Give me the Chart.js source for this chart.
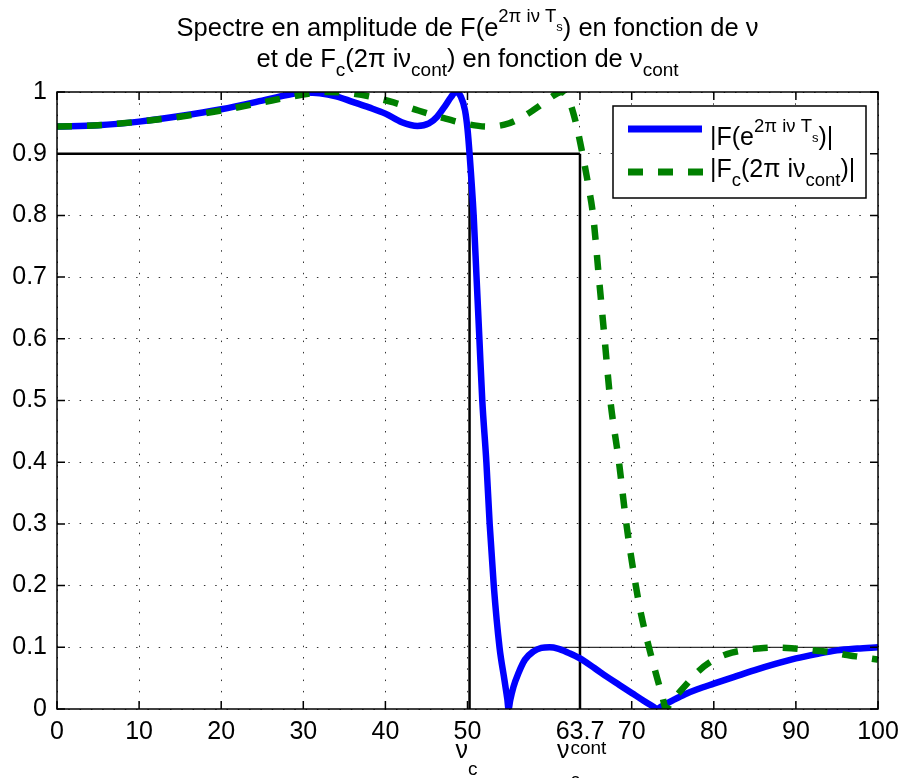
<!DOCTYPE html>
<html>
<head>
<meta charset="utf-8">
<script src="https://cdn.jsdelivr.net/npm/chart.js@4.4.1/dist/chart.umd.min.js"></script>
<style>
  html, body { margin: 0; padding: 0; background: #fff; }
  #wrap { width: 899px; height: 778px; }
</style>
</head>
<body>
<div id="wrap"><canvas id="c" width="899" height="778"></canvas></div>
<script>
// ---------- data ----------
const xTickValues = [0, 10, 20, 30, 40, 50, 63.7, 70, 80, 90, 100];
const xTickLabels = ['0', '10', '20', '30', '40', '50', '63.7', '70', '80', '90', '100'];
const yTickValues = [0, 0.1, 0.2, 0.3, 0.4, 0.5, 0.6, 0.7, 0.8, 0.9, 1];
const yTickLabels = ['0', '0.1', '0.2', '0.3', '0.4', '0.5', '0.6', '0.7', '0.8', '0.9', '1'];

// |F(e^{2pi i nu Ts})| (digital, blue solid)
const digitalNu = [0, 5, 10, 15, 20, 25, 28, 30, 32, 34, 36, 38, 40, 42, 43.9, 45.3, 46.3, 47.3, 48.0, 48.6, 49.2, 49.7, 50.0,
  50.25, 50.75, 51.1, 51.45, 51.8, 52.3, 52.7, 53.2, 53.9, 54.5, 54.85, 55.0, 55.2, 55.6, 56.2, 57.0, 58.0, 59.0, 60.0, 61.0,
  62.3, 63.7, 65.5, 67.0, 68.5, 70.0, 71.5, 72.6, 73.1, 73.6, 75.0, 76.5, 78.0, 80.0, 82.5, 85.0, 87.5, 90.0, 92.5, 95.0, 97.5, 100];
const digitalAmp = [0.944, 0.946, 0.952, 0.961, 0.972, 0.986, 0.995, 0.999, 0.998, 0.993, 0.984, 0.975, 0.965, 0.951, 0.945, 0.949, 0.960, 0.978, 0.992, 1.0, 0.992, 0.970, 0.94,
  0.90, 0.80, 0.70, 0.60, 0.50, 0.40, 0.30, 0.20, 0.10, 0.047, 0.016, 0.0, 0.014, 0.036, 0.058, 0.080, 0.093, 0.099, 0.100, 0.098,
  0.091, 0.082, 0.066, 0.052, 0.039, 0.026, 0.013, 0.004, 0.0, 0.004, 0.014, 0.024, 0.032, 0.041, 0.052, 0.063, 0.073, 0.082, 0.089, 0.095, 0.098, 0.100];

// |Fc(2pi i nu_cont)| (continuous, green dashed)
const contNu = [0, 5, 10, 15, 20, 25, 28, 31, 33, 35, 38, 41, 44, 47, 50, 52.4, 54.5, 56.5, 58.5, 60.0, 61.5, 62.4, 63.2, 64.0,
  64.7, 65.3, 66.0, 66.7, 67.4, 68.45, 69.35, 70.5, 71.2, 72.1, 73.1, 73.7, 74.2, 74.7, 75.9, 77.0, 78.1, 79.8, 81.6, 83.5,
  85.3, 87.0, 88.9, 90.7, 92.6, 94.3, 96.0, 98.0, 100];
const contAmp = [0.944, 0.946, 0.952, 0.960, 0.970, 0.983, 0.991, 0.998, 1.0, 0.999, 0.993, 0.983, 0.970, 0.958, 0.948, 0.944, 0.947, 0.958, 0.975, 0.990, 1.0, 0.985, 0.950, 0.90,
  0.85, 0.80, 0.70, 0.60, 0.50, 0.40, 0.30, 0.20, 0.15, 0.10, 0.05, 0.022, 0.0, 0.01, 0.0285, 0.045, 0.061, 0.078, 0.089, 0.095,
  0.098, 0.0995, 0.099, 0.097, 0.0945, 0.092, 0.088, 0.084, 0.080];

// reference lines
const nuC = 50.25, nuCcont = 63.7;
const level09X = [0, 63.7], level09Y = [0.9, 0.9];
const nuCLineX = [nuC, nuC], nuCLineY = [0, 0.9];
const nuContLineX = [nuCcont, nuCcont], nuContLineY = [0, 0.9];
const level01X = [56, 100], level01Y = [0.1, 0.1];

// texts (segments: [text, size, baseline shift])
const titleLine1 = [['Spectre en amplitude de F(e', 25.5, 0], ['2\u03C0 i\u03BD T', 18.5, -14], ['s', 13, -5], [') en fonction de \u03BD', 25.5, 0]];
const titleLine2 = [['et de F', 25.5, 0], ['c', 19, 9], ['(2\u03C0 i\u03BD', 25.5, 0], ['cont', 19, 9], [') en fonction de \u03BD', 25.5, 0], ['cont', 19, 9]];
const legend1 = [['|F(e', 25, 0], ['2\u03C0 i\u03BD T', 18.5, -13], ['s', 13, -3], [')|', 25, 0]];
const legend2 = [['|F', 25, 0], ['c', 18.5, 9], ['(2\u03C0 i\u03BD', 25, 0], ['cont', 18.5, 9], [')|', 25, 0]];
const nuCLabel = [['\u03BD', 25, 0], ['c', 19, 17]];
const nuContLabelMain = [['\u03BD', 25, 0]];

// ---------- rendering ----------
const FONT = '"Liberation Sans", Arial, Helvetica, sans-serif';
const pts = (xs, ys) => xs.map((x, i) => ({ x: x, y: ys[i] }));

function richWidth(ctx, parts) {
  let w = 0;
  for (const p of parts) { ctx.font = p[1] + 'px ' + FONT; w += ctx.measureText(p[0]).width; }
  return w;
}
function drawRich(ctx, parts, x, y, align) {
  const w = richWidth(ctx, parts);
  let cx = align === 'center' ? x - w / 2 : x;
  ctx.textAlign = 'left';
  ctx.textBaseline = 'alphabetic';
  ctx.fillStyle = '#000';
  for (const p of parts) {
    ctx.font = p[1] + 'px ' + FONT;
    ctx.fillText(p[0], cx, y + p[2]);
    cx += ctx.measureText(p[0]).width;
  }
  return cx;
}

const framePlugin = {
  id: 'frame',
  afterDatasetsDraw(chart) {
    const { ctx, chartArea: a, scales } = chart;
    const xs = scales.x, ys = scales.y;
    ctx.save();
    ctx.strokeStyle = '#000';
    ctx.lineWidth = 1.5;
    ctx.strokeRect(a.left, a.top, a.right - a.left, a.bottom - a.top);
    const tl = 8;
    ctx.beginPath();
    for (const v of xTickValues) {
      const px = xs.getPixelForValue(v);
      ctx.moveTo(px, a.bottom); ctx.lineTo(px, a.bottom - tl);
      ctx.moveTo(px, a.top); ctx.lineTo(px, a.top + tl);
    }
    for (const v of yTickValues) {
      const py = ys.getPixelForValue(v);
      ctx.moveTo(a.left, py); ctx.lineTo(a.left + tl, py);
      ctx.moveTo(a.right, py); ctx.lineTo(a.right - tl, py);
    }
    ctx.stroke();
    ctx.restore();
  },
  afterDraw(chart) {
    const { ctx, chartArea: a, scales } = chart;
    const xs = scales.x;
    ctx.save();
    const cx = (a.left + a.right) / 2;
    drawRich(ctx, titleLine1, cx, 36, 'center');
    drawRich(ctx, titleLine2, cx, 67, 'center');

    // legend box
    const lx = a.right - 265, ly = a.top + 14, lw = 253, lh = 92;
    ctx.fillStyle = '#fff';
    ctx.fillRect(lx, ly, lw, lh);
    ctx.strokeStyle = '#000';
    ctx.lineWidth = 1.5;
    ctx.strokeRect(lx, ly, lw, lh);
    ctx.lineCap = 'butt';
    ctx.lineWidth = 7;
    ctx.strokeStyle = '#0000ff';
    ctx.beginPath(); ctx.moveTo(lx + 15, ly + 23); ctx.lineTo(lx + 89, ly + 23); ctx.stroke();
    ctx.strokeStyle = '#008000';
    ctx.setLineDash([15, 15]);
    ctx.beginPath(); ctx.moveTo(lx + 15, ly + 66); ctx.lineTo(lx + 90, ly + 66); ctx.stroke();
    ctx.setLineDash([]);
    drawRich(ctx, legend1, lx + 97, ly + 39, 'left');
    drawRich(ctx, legend2, lx + 97, ly + 71, 'left');

    // nu_c labels under the axis
    drawRich(ctx, nuCLabel, xs.getPixelForValue(50) - 12, 758, 'left');
    const nx = xs.getPixelForValue(nuCcont) - 23;
    const endNu = drawRich(ctx, nuContLabelMain, nx, 758, 'left');
    drawRich(ctx, [['cont', 19, 0]], endNu + 1, 754, 'left');
    drawRich(ctx, [['c', 19, 0]], endNu + 1, 786, 'left');
    ctx.restore();
  }
};

const ctx = document.getElementById('c').getContext('2d');
new Chart(ctx, {
  type: 'scatter',
  data: {
    datasets: [
      { label: '|Fc(2\u03C0 i\u03BDcont)|', data: pts(contNu, contAmp), showLine: true, pointRadius: 0,
        borderColor: '#008000', borderWidth: 6.5, borderDash: [15, 15], borderCapStyle: 'butt',
        cubicInterpolationMode: 'monotone', order: 0, clip: 0 },
      { label: '|F(e^{2\u03C0 i\u03BD Ts})|', data: pts(digitalNu, digitalAmp), showLine: true, pointRadius: 0,
        borderColor: '#0000ff', borderWidth: 6.5, cubicInterpolationMode: 'monotone', order: 1, clip: 0 },
      { label: 'level 0.9', data: pts(level09X, level09Y), showLine: true, pointRadius: 0, borderColor: '#000', borderWidth: 2.5, order: 2 },
      { label: 'nu_c', data: pts(nuCLineX, nuCLineY), showLine: true, pointRadius: 0, borderColor: '#000', borderWidth: 2.5, order: 2 },
      { label: 'nu_c cont', data: pts(nuContLineX, nuContLineY), showLine: true, pointRadius: 0, borderColor: '#000', borderWidth: 2.5, order: 2 },
      { label: 'level 0.1', data: pts(level01X, level01Y), showLine: true, pointRadius: 0, borderColor: '#000', borderWidth: 1, order: 2 }
    ]
  },
  options: {
    responsive: false,
    animation: false,
    events: [],
    layout: { padding: { left: 0, right: 21, top: 92, bottom: 0 } },
    plugins: { legend: { display: false }, title: { display: false }, tooltip: { enabled: false } },
    scales: {
      x: {
        type: 'linear', min: 0, max: 100,
        afterBuildTicks: s => { s.ticks = xTickValues.map(v => ({ value: v })); },
        afterFit: s => { s.height = 69; s.paddingLeft = 0; s.paddingRight = 0; },
        ticks: { autoSkip: false, maxRotation: 0, minRotation: 0, padding: 8, color: '#000',
          font: { family: FONT, size: 25 }, callback: (v, i) => xTickLabels[i] },
        grid: { color: 'rgba(0,0,0,0.8)', lineWidth: 1, drawTicks: false },
        border: { display: false, dash: [1.5, 9.8] }
      },
      y: {
        type: 'linear', min: 0, max: 1,
        afterBuildTicks: s => { s.ticks = yTickValues.map(v => ({ value: v })); },
        afterFit: s => { s.width = 57; s.paddingTop = 0; s.paddingBottom = 0; },
        ticks: { padding: 10, color: '#000', font: { family: FONT, size: 25 }, callback: (v, i) => yTickLabels[i] },
        grid: { color: 'rgba(0,0,0,0.8)', lineWidth: 1, drawTicks: false },
        border: { display: false, dash: [1.5, 9.8] }
      }
    }
  },
  plugins: [framePlugin]
});
</script>
</body>
</html>
